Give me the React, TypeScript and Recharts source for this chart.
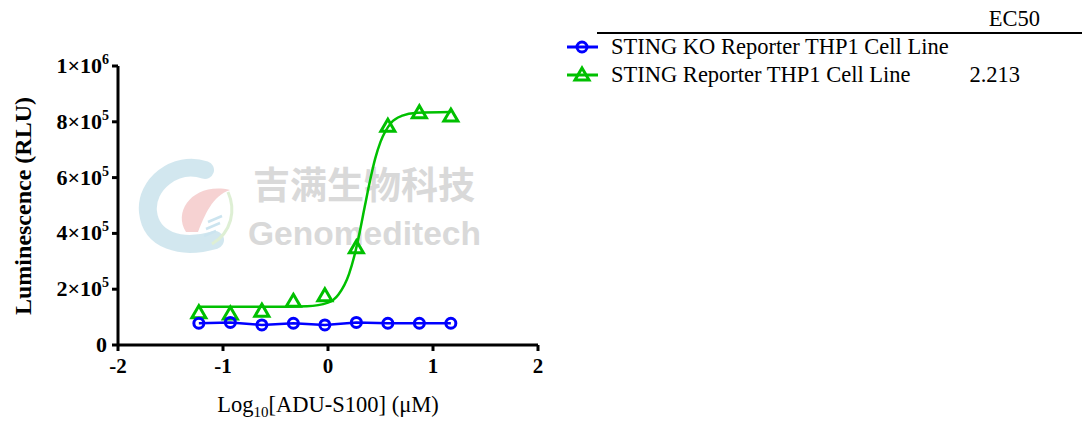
import React from "react";
import { ComposedChart, Line, Scatter, XAxis, YAxis } from "recharts";

/* ── Data ────────────────────────────────────────────────── */
const logConc = [-1.23, -0.93, -0.63, -0.33, -0.03, 0.27, 0.57, 0.87, 1.17];
const koRLU = [78000, 81000, 72000, 78000, 72000, 81000, 78000, 78000, 78000];
const stingRLU = [119000, 115000, 125000, 160000, 180000, 352000, 788000, 836000, 824000];

// fitted curve of the STING line
const fitX = [-1.23, -0.4, -0.2, 0, 0.1, 0.2, 0.25, 0.3, 0.35, 0.4, 0.45, 0.5, 0.6, 0.7, 0.85, 1.17];
const fitSting = [137000, 137500, 139000, 152000, 181000, 254000, 318000, 401000, 496000, 589000, 669000, 728000, 796000, 821000, 832000, 835000];

const xTicks = [-2, -1, 0, 1, 2];
const yTicks = [0, 200000, 400000, 600000, 800000, 1000000];

const seriesNames = ["STING KO Reporter THP1 Cell Line", "STING Reporter THP1 Cell Line"];
const ec50Values = ["", "2.213"];

const koPoints = logConc.map((x, i) => ({ x, y: koRLU[i] }));
const stingPoints = logConc.map((x, i) => ({ x, y: stingRLU[i] }));
const stingFit = fitX.map((x, i) => ({ x, y: fitSting[i] }));

/* ── Styles ───────────────────────────────────────────────── */
const SERIF = "Liberation Serif, serif";
const BLUE = "#0000ff";
const GREEN = "#00c000";

/* ── Markers ──────────────────────────────────────────────── */
function CircleDot({ cx, cy }: any) {
  return <circle cx={cx} cy={cy} r={5} fill="none" stroke={BLUE} strokeWidth={3} />;
}

function TriangleDot({ cx, cy }: any) {
  const h = 12;
  const w = 14;
  return (
    <path
      d={`M${cx},${cy - h / 2} L${cx + w / 2},${cy + h / 2} L${cx - w / 2},${cy + h / 2} Z`}
      fill="none"
      stroke={GREEN}
      strokeWidth={3}
    />
  );
}

/* ── Ticks ────────────────────────────────────────────────── */
function YTick({ x, y, payload }: any) {
  const v = payload.value;
  let mant = "";
  let exp = "";
  if (v === 0) mant = "0";
  else if (v >= 1000000) {
    mant = "1×10";
    exp = "6";
  } else {
    mant = `${v / 100000}×10`;
    exp = "5";
  }
  return (
    <text
      x={x - (exp ? 1 : 3)}
      y={y + 7}
      textAnchor="end"
      fontFamily={SERIF}
      fontWeight="bold"
      fontSize={22}
      fill="#000"
    >
      {mant}
      {exp && (
        <tspan fontSize={14} dy={-9}>
          {exp}
        </tspan>
      )}
    </text>
  );
}

function XTick({ x, y, payload }: any) {
  return (
    <text
      x={x}
      y={y + 20}
      textAnchor="middle"
      fontFamily={SERIF}
      fontWeight="bold"
      fontSize={21}
      fill="#000"
    >
      {payload.value}
    </text>
  );
}

/* ── Legend ───────────────────────────────────────────────── */
function LegendBox() {
  return (
    <svg width={1082} height={100} style={{ position: "absolute", left: 0, top: 0 }}>
      <text x={1040} y={26} textAnchor="end" fontFamily={SERIF} fontSize={22.5} fill="#000">
        EC50
      </text>
      <line x1={597} x2={1082} y1={33} y2={33} stroke="#000" strokeWidth={2} />
      {seriesNames.map((name, i) => {
        const cy = 47 + i * 28;
        return (
          <g key={name}>
            <line x1={567} x2={598} y1={cy} y2={cy} stroke={i === 0 ? BLUE : GREEN} strokeWidth={3} />
            {i === 0 ? <CircleDot cx={582} cy={cy} /> : <TriangleDot cx={582} cy={cy - 1} />}
            <text x={611} y={cy + 7} fontFamily={SERIF} fontSize={22.5} fill="#000">
              {name}
            </text>
            {ec50Values[i] && (
              <text x={1020} y={cy + 7} textAnchor="end" fontFamily={SERIF} fontSize={22.5} fill="#000">
                {ec50Values[i]}
              </text>
            )}
          </g>
        );
      })}
    </svg>
  );
}

/* ── Watermark (sits under the plot) ──────────────────────── */
function Watermark() {
  return (
    <svg width={1082} height={423} style={{ position: "absolute", left: 0, top: 0 }}>
      <g opacity={0.75}>
        <path
          d="M205,170 C175,160 145,185 148,212 C151,240 180,250 215,240"
          fill="none"
          stroke="#c4e0ea"
          strokeWidth={18}
          strokeLinecap="round"
        />
        <path d="M186,232 C172,210 195,182 230,190 C212,196 205,215 198,232 Z" fill="#f3c4c4" />
        <path d="M228,192 C236,210 232,232 212,244" fill="none" stroke="#d3eac6" strokeWidth={3} />
        <g stroke="#bcdcea" strokeWidth={2.5}>
          <line x1={208} y1={222} x2={222} y2={216} />
          <line x1={206} y1={229} x2={220} y2={223} />
          <line x1={204} y1={236} x2={216} y2={231} />
        </g>
      </g>
      <text
        x={253}
        y={199}
        textLength={222}
        lengthAdjust="spacingAndGlyphs"
        fontFamily="Noto Sans CJK SC, sans-serif"
        fontWeight="bold"
        fontSize={37}
        fill="#d9d9d9"
      >
        吉满生物科技
      </text>
      <text
        x={248}
        y={245}
        textLength={233}
        lengthAdjust="spacingAndGlyphs"
        fontFamily="Liberation Sans, sans-serif"
        fontWeight="bold"
        fontSize={34}
        fill="#d9d9d9"
      >
        Genomeditech
      </text>
    </svg>
  );
}

/* ── Chart ────────────────────────────────────────────────── */
export default function App() {
  return (
    <div style={{ position: "absolute", left: 0, top: 0, width: 1082, height: 423, background: "#fff" }}>
      <Watermark />
      <div style={{ position: "absolute", left: 0, top: 0 }}>
        <ComposedChart width={1082} height={423} margin={{ top: 66, right: 544, bottom: 0, left: 0 }}>
          <XAxis
            type="number"
            dataKey="x"
            domain={[-2, 2]}
            ticks={xTicks}
            tick={<XTick />}
            tickSize={6}
            height={78}
            axisLine={{ stroke: "#000", strokeWidth: 3 }}
            tickLine={{ stroke: "#000", strokeWidth: 3 }}
            allowDataOverflow
          />
          <YAxis
            type="number"
            dataKey="y"
            domain={[0, 1000000]}
            ticks={yTicks}
            tick={<YTick />}
            tickSize={6}
            width={118}
            axisLine={{ stroke: "#000", strokeWidth: 3 }}
            tickLine={{ stroke: "#000", strokeWidth: 3 }}
            allowDataOverflow
          />
          <Line
            data={stingFit}
            dataKey="y"
            type="monotone"
            stroke={GREEN}
            strokeWidth={2.5}
            dot={false}
            legendType="none"
            isAnimationActive={false}
          />
          <Line
            data={koPoints}
            dataKey="y"
            type="linear"
            stroke={BLUE}
            strokeWidth={2.5}
            dot={false}
            legendType="none"
            isAnimationActive={false}
          />
          <Scatter
            name={seriesNames[1]}
            data={stingPoints}
            dataKey="y"
            shape={<TriangleDot />}
            isAnimationActive={false}
          />
          <Scatter
            name={seriesNames[0]}
            data={koPoints}
            dataKey="y"
            shape={<CircleDot />}
            isAnimationActive={false}
          />
        </ComposedChart>
      </div>
      <LegendBox />
      <svg width={1082} height={423} style={{ position: "absolute", left: 0, top: 0, pointerEvents: "none" }}>
        <text
          transform="translate(31,206) rotate(-90)"
          textAnchor="middle"
          fontFamily={SERIF}
          fontWeight="bold"
          fontSize={24}
          fill="#000"
        >
          Luminescence (RLU)
        </text>
        <text x={328} y={412} textAnchor="middle" fontFamily={SERIF} fontSize={22.5} fill="#000">
          Log
          <tspan fontSize={15} dy={5}>
            10
          </tspan>
          <tspan dy={-5}>[ADU-S100] (μM)</tspan>
        </text>
      </svg>
    </div>
  );
}
